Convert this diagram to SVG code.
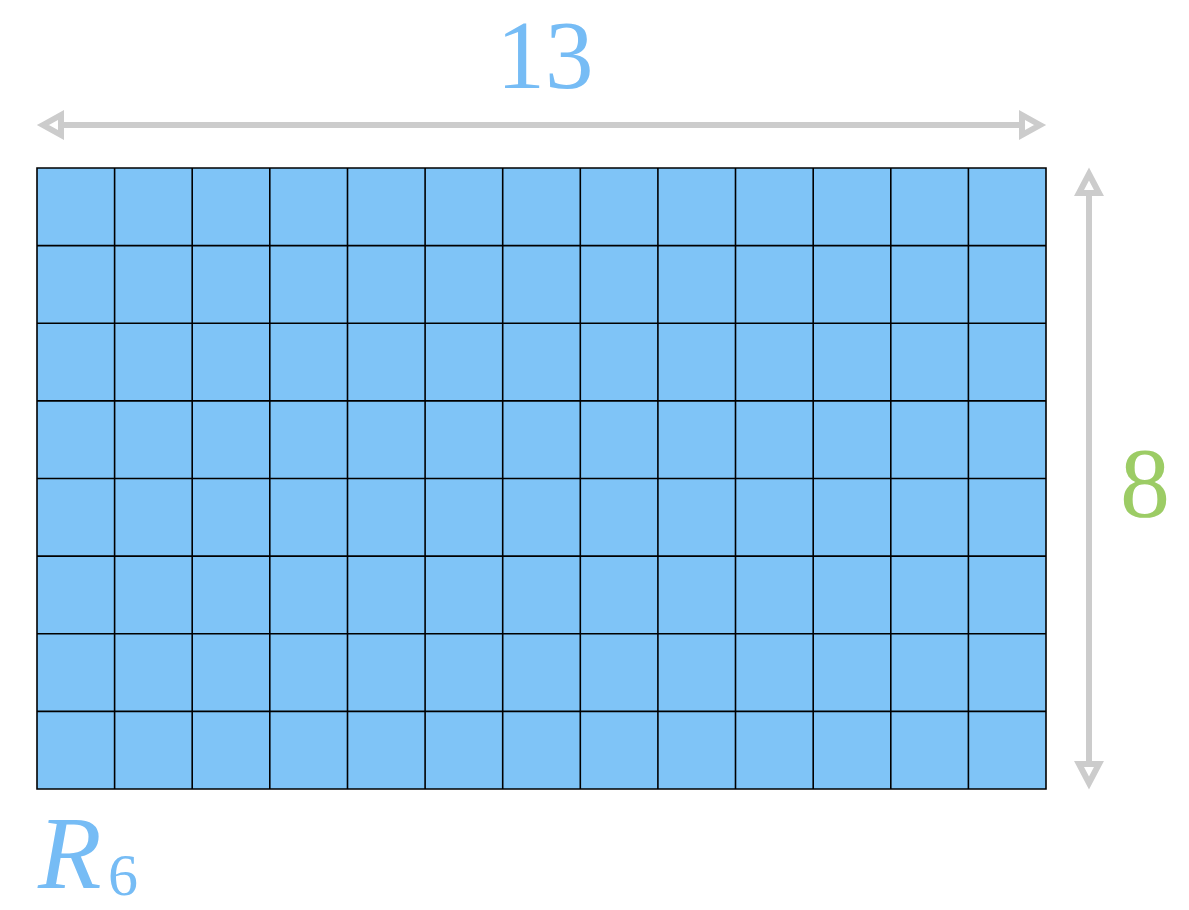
<svg xmlns="http://www.w3.org/2000/svg" width="1189" height="910" viewBox="0 0 1189 910">
<defs>
<style>
.cell{fill:#7fc4f7;stroke:none}
.grid{stroke:#000;stroke-width:1.6;fill:none}
.dim{stroke:#cccccc;stroke-width:6;fill:none}
.head{stroke:#cccccc;stroke-width:6;fill:#fff;stroke-linejoin:miter}
.lbl{font-family:"Liberation Serif","Times New Roman",serif}
</style>
</defs>
<rect width="1189" height="910" fill="#fff"/>
<g id="grid">
<rect class="cell" x="37" y="168" width="1009" height="621"/>
<path class="grid" d="M37 168H1046V789H37Z M114.6 168V789 M192.2 168V789 M269.8 168V789 M347.5 168V789 M425.1 168V789 M502.7 168V789 M580.3 168V789 M657.9 168V789 M735.5 168V789 M813.2 168V789 M890.8 168V789 M968.4 168V789 M37 245.6H1046 M37 323.3H1046 M37 400.9H1046 M37 478.5H1046 M37 556.1H1046 M37 633.8H1046 M37 711.4H1046"/>
</g>
<g id="connectors">
<line class="dim" x1="58" y1="125" x2="1025" y2="125"/>
<polygon class="head" points="43,125 61,115 61,135"/>
<polygon class="head" points="1040,125 1022,115 1022,135"/>
<line class="dim" x1="1089" y1="190" x2="1089" y2="767"/>
<polygon class="head" points="1089,174 1079,193 1099,193"/>
<polygon class="head" points="1089,783 1079,764 1099,764"/>
</g>
<g id="label-width"><text class="lbl" x="545" y="88" font-size="97" fill="#76bcf5" text-anchor="middle">13</text></g>
<g id="label-height"><text class="lbl" x="1145" y="516" font-size="100" fill="#9ccc65" text-anchor="middle">8</text></g>
<g id="label-name"><text class="lbl" x="38" y="888" font-size="104" fill="#76bcf5" font-style="italic">R</text><text class="lbl" x="108" y="895" font-size="60" fill="#76bcf5">6</text></g>
</svg>
